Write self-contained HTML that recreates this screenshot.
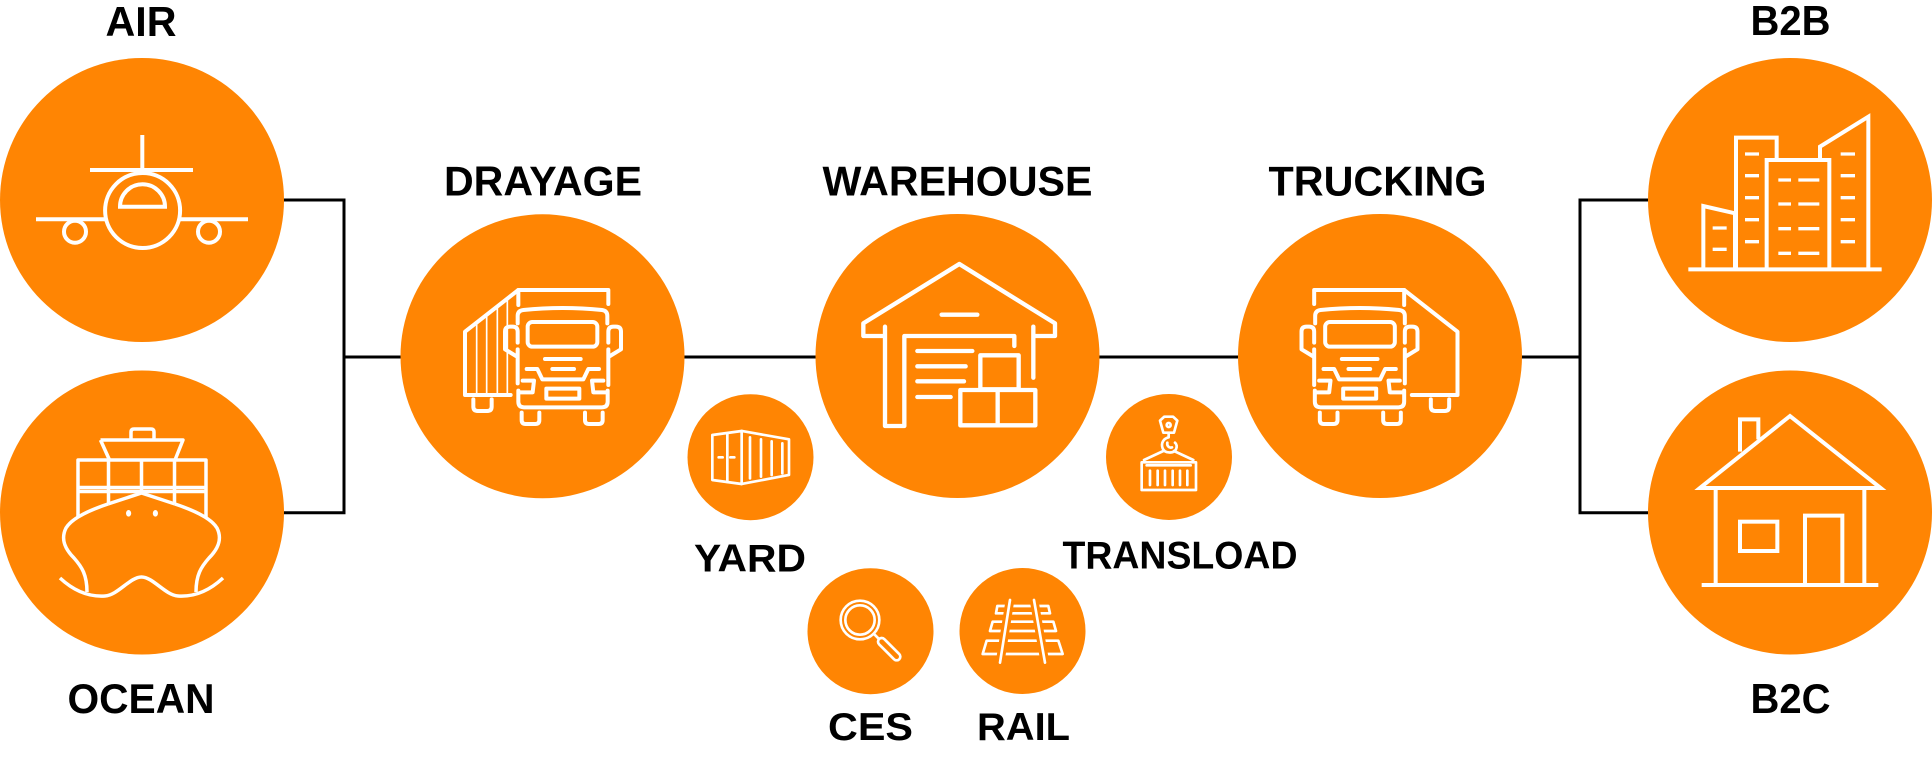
<!DOCTYPE html>
<html>
<head>
<meta charset="utf-8">
<style>
html,body{margin:0;padding:0;background:#fff;}
svg{display:block;}
text{font-family:"Liberation Sans",Arial,sans-serif;font-weight:bold;fill:#000;}
</style>
</head>
<body>
<svg width="1932" height="760" viewBox="0 0 1932 760" xmlns="http://www.w3.org/2000/svg">
<rect width="1932" height="760" fill="#fff"/>

<!-- connectors -->
<g stroke="#000" stroke-width="3" fill="none">
  <path d="M283,200 L344,200 L344,512.7 L283,512.7"/>
  <path d="M344,357 L401,357"/>
  <path d="M684,357 L816,357"/>
  <path d="M1099,357 L1238,357"/>
  <path d="M1521,357 L1580,357"/>
  <path d="M1648,200 L1580,200 L1580,512.7 L1648,512.7"/>
</g>

<!-- circles -->
<g fill="#ff8503">
  <circle cx="142" cy="200" r="142"/>
  <circle cx="142" cy="512.5" r="142"/>
  <circle cx="542.5" cy="356.3" r="142"/>
  <circle cx="957.5" cy="356" r="142"/>
  <circle cx="1380" cy="356" r="142"/>
  <circle cx="1790" cy="200" r="142"/>
  <circle cx="1790" cy="512.5" r="142"/>
  <circle cx="750.5" cy="457.2" r="63"/>
  <circle cx="1169" cy="457" r="63"/>
  <circle cx="870.5" cy="631.2" r="63"/>
  <circle cx="1022.5" cy="631" r="63"/>
</g>

<!-- plane -->
<g stroke="#fff" stroke-width="4" fill="none">
  <line x1="142.3" y1="135" x2="142.3" y2="171"/>
  <line x1="90" y1="170" x2="193" y2="170"/>
  <circle cx="142.6" cy="210.5" r="37.5"/>
  <path d="M120,206.7 A22.5,22.5 0 0 1 165,206.7 Z"/>
  <line x1="36" y1="219.3" x2="106" y2="219.3"/>
  <line x1="179" y1="219.3" x2="248" y2="219.3"/>
  <circle cx="75" cy="231.7" r="11"/>
  <circle cx="209" cy="231.7" r="11"/>
</g>

<!-- ship -->
<g stroke="#fff" stroke-width="3.5" fill="none" stroke-linejoin="round">
  <path d="M131,440 L131,432 Q131,429 134,429 L151,429 Q154,429 154,432 L154,440"/>
  <path d="M100.5,440 L183,440 L175,460 M100.5,440 L109.5,460"/>
  <path d="M78,517 L78,460 L206,460 L206,517"/>
  <path d="M78,487.5 L206,487.5 M78,491.5 L206,491.5"/>
  <path d="M108.5,460 L108.5,504 M141.5,460 L141.5,493 M174.5,460 L174.5,504"/>
  <path d="M108,504 L141.5,493 L175,504"/>
  <path d="M108,504 C90,510 72,518 66,528 C60,540 66,550 74,558 C82,567 87,575 87,592"/>
  <path d="M175,504 C193,510 211,518 217,528 C223,540 217,550 209,558 C201,567 196,575 196,592"/>
  <path d="M60,578 C75,592 90,597 105,596 C118,595 130,577 141.5,577 C153,577 165,595 178,596 C193,597 208,592 223,578"/>
</g>
<ellipse cx="128.6" cy="513.3" rx="2.6" ry="3.3" fill="#fff"/>
<ellipse cx="155.4" cy="513.3" rx="2.6" ry="3.3" fill="#fff"/>

<!-- drayage truck -->
<g transform="translate(390,150) scale(0.33333)" stroke="#fff" fill="none" stroke-width="12" stroke-linecap="round" stroke-linejoin="round">
  <path d="M655,462 L655,420 L385,420 L225,545 L225,735 L362,735"/>
  <path d="M385,420 L385,465"/>
  <g stroke-width="5">
    <path d="M260,518 L260,735 M290,494 L290,735 M322,469 L322,735 M352,446 L352,735"/>
  </g>
  <path d="M250,748 L250,770 Q250,783 263,783 L292,783 Q305,783 305,770 L305,748"/>
  <g id="cab">
    <path d="M383,520 L383,498 Q383,482 400,480 Q518,468 636,480 Q652,482 652,498 L652,520"/>
    <rect x="413" y="516" width="209" height="74" rx="14"/>
    <path d="M383,578 L383,545 Q383,530 368,530 L360,530 Q345,530 345,545 L345,598 L378,618"/>
    <path d="M655,578 L655,545 Q655,530 670,530 L678,530 Q693,530 693,545 L693,598 L660,618"/>
    <path d="M383,598 L383,700 M655,598 L655,705"/>
    <path d="M465,627 L572,627 M487,657 L552,657"/>
    <path d="M410,657 L442,657 L457,688 L580,688 L595,657 L627,657"/>
    <path d="M398,692 L432,692 L428,727 L388,727"/>
    <path d="M640,692 L606,692 L610,727 L650,727"/>
    <path d="M385,722 L385,755 Q385,772 402,772 L636,772 Q653,772 653,755 L653,722"/>
    <rect x="469" y="716" width="99" height="30"/>
    <path d="M395,788 L395,810 Q395,822 407,822 L436,822 Q448,822 448,810 L448,788"/>
    <path d="M585,788 L585,810 Q585,822 597,822 L626,822 Q638,822 638,810 L638,788"/>
  </g>
</g>

<!-- trucking truck (mirrored) -->
<g transform="translate(1532.5,150) scale(-0.33333,0.33333)" stroke="#fff" fill="none" stroke-width="12" stroke-linecap="round" stroke-linejoin="round">
  <path d="M655,462 L655,420 L385,420 L225,545 L225,735 L362,735"/>
  <path d="M385,420 L385,465"/>
  <path d="M250,748 L250,770 Q250,783 263,783 L292,783 Q305,783 305,770 L305,748"/>
  <path d="M383,520 L383,498 Q383,482 400,480 Q518,468 636,480 Q652,482 652,498 L652,520"/>
  <rect x="413" y="516" width="209" height="74" rx="14"/>
  <path d="M383,578 L383,545 Q383,530 368,530 L360,530 Q345,530 345,545 L345,598 L378,618"/>
  <path d="M655,578 L655,545 Q655,530 670,530 L678,530 Q693,530 693,545 L693,598 L660,618"/>
  <path d="M383,598 L383,700 M655,598 L655,705"/>
  <path d="M465,627 L572,627 M487,657 L552,657"/>
  <path d="M410,657 L442,657 L457,688 L580,688 L595,657 L627,657"/>
  <path d="M398,692 L432,692 L428,727 L388,727"/>
  <path d="M640,692 L606,692 L610,727 L650,727"/>
  <path d="M385,722 L385,755 Q385,772 402,772 L636,772 Q653,772 653,755 L653,722"/>
  <rect x="469" y="716" width="99" height="30"/>
  <path d="M395,788 L395,810 Q395,822 407,822 L436,822 Q448,822 448,810 L448,788"/>
  <path d="M585,788 L585,810 Q585,822 597,822 L626,822 Q638,822 638,810 L638,788"/>
</g>

<!-- warehouse -->
<g transform="translate(800,150) scale(0.33333)" stroke="#fff" fill="none" stroke-width="13" stroke-linecap="round" stroke-linejoin="round">
  <path d="M250,558 L190,558 L190,520 L478,342 L765,520 L765,558 L705,558"/>
  <path d="M255,530 L255,828 L313,828 L313,558 L643,558 L643,588"/>
  <path d="M700,530 L700,683"/>
  <path d="M425,494 L532,494"/>
  <path d="M352,603 L517,603 M352,649 L497,649 M352,694 L492,694 M352,741 L452,741"/>
  <rect x="541" y="616" width="115" height="102"/>
  <rect x="481" y="720" width="225" height="106"/>
  <path d="M593,720 L593,826"/>
</g>

<!-- yard container -->
<g transform="translate(390,150) scale(0.33333)" stroke="#fff" fill="none" stroke-width="8" stroke-linecap="round" stroke-linejoin="round">
  <path d="M967,855 L1055,843 L1055,1002 L967,990 Z"/>
  <path d="M1055,843 L1197,868 L1197,975 L1055,1002"/>
  <path d="M1012,850 L1012,996"/>
  <path d="M986,922 L998,922 M1021,922 L1033,922"/>
  <path d="M1080,862 L1080,985 M1113,868 L1113,980 M1145,874 L1145,975 M1177,880 L1177,970"/>
</g>

<!-- transload -->
<g transform="translate(800,150) scale(0.33333)" stroke="#fff" fill="none" stroke-width="8" stroke-linecap="round" stroke-linejoin="round">
  <path d="M1080,812 L1093,800 L1119,800 L1132,812 L1122,848 L1090,848 Z"/>
  <circle cx="1106" cy="825" r="6"/>
  <path d="M1106,850 L1106,862 C1090,866 1082,880 1088,895 C1094,910 1120,912 1128,898 C1132,890 1130,882 1125,878"/>
  <path d="M1102,878 C1100,888 1108,895 1116,892"/>
  <path d="M1032,930 L1090,903 M1122,903 L1180,930"/>
  <rect x="1025" y="937" width="163" height="83"/>
  <path d="M1040,946 L1172,946"/>
  <path d="M1050,962 L1050,1005 M1073,962 L1073,1005 M1095,962 L1095,1005 M1118,962 L1118,1005 M1140,962 L1140,1005 M1162,962 L1162,1005"/>
</g>

<!-- CES magnifier & rail -->
<g transform="translate(680,520) scale(0.33333)" stroke="#fff" fill="none" stroke-width="8" stroke-linecap="round" stroke-linejoin="round">
  <circle cx="540" cy="300" r="58"/>
  <circle cx="540" cy="300" r="44"/>
  <path d="M582,342 L600,360"/>
  <line x1="605" y1="365" x2="650" y2="410" stroke-width="30"/>
  <line x1="605" y1="365" x2="650" y2="410" stroke="#ff8503" stroke-width="14"/>
  <!-- rail ties -->
  <path d="M952,258 L1105,258 L1110,280 L948,280 Z"/>
  <path d="M938,305 L1120,305 L1128,333 L930,333 Z"/>
  <path d="M920,362 L1135,362 L1148,402 L908,402 Z"/>
  <!-- rails with gap -->
  <line x1="990" y1="240" x2="960" y2="428" stroke="#ff8503" stroke-width="26" stroke-linecap="butt"/>
  <line x1="1062" y1="240" x2="1095" y2="428" stroke="#ff8503" stroke-width="26" stroke-linecap="butt"/>
  <line x1="990" y1="240" x2="960" y2="428"/>
  <line x1="1062" y1="240" x2="1095" y2="428"/>
</g>

<!-- B2B buildings -->
<g transform="translate(1600,0) scale(0.33333)" stroke="#fff" fill="none" stroke-width="12" stroke-linejoin="miter">
  <path d="M265,808 L845,808"/>
  <path d="M310,808 L310,618 L405,640 L405,808"/>
  <path d="M408,808 L408,413 L530,413 L530,480"/>
  <path d="M500,808 L500,480 L688,480 L688,808"/>
  <path d="M660,480 L660,440 L805,350 L805,808"/>
  <g stroke-width="10">
    <path d="M338,684 L380,684 M338,748 L380,748"/>
    <path d="M435,462 L477,462 M435,527 L477,527 M435,593 L477,593 M435,659 L477,659 M435,725 L477,725"/>
    <path d="M535,540 L573,540 M595,540 L658,540 M535,612 L573,612 M595,612 L658,612 M535,686 L573,686 M595,686 L658,686 M535,760 L573,760 M595,760 L658,760"/>
    <path d="M722,462 L765,462 M722,527 L765,527 M722,593 L765,593 M722,659 L765,659 M722,725 L765,725"/>
  </g>
</g>

<!-- B2C house -->
<g transform="translate(1600,370) scale(0.33333)" stroke="#fff" fill="none" stroke-width="12" stroke-linejoin="miter">
  <path d="M300,354 L570,138 L842,354 Z"/>
  <path d="M420,245 L420,148 L475,148 L475,208"/>
  <path d="M347,357 L347,645 M793,357 L793,645"/>
  <path d="M305,645 L835,645"/>
  <rect x="420" y="455" width="112" height="88"/>
  <path d="M615,640 L615,437 L727,437 L727,640"/>
</g>

<!-- labels -->
<g font-size="42" text-anchor="middle">
  <text x="141" y="36" textLength="71" lengthAdjust="spacingAndGlyphs">AIR</text>
  <text x="141" y="713" textLength="147" lengthAdjust="spacingAndGlyphs">OCEAN</text>
  <text x="543" y="195.7" textLength="198" lengthAdjust="spacingAndGlyphs">DRAYAGE</text>
  <text x="957.5" y="195.7" textLength="270" lengthAdjust="spacingAndGlyphs">WAREHOUSE</text>
  <text x="1377.5" y="195.7" textLength="218" lengthAdjust="spacingAndGlyphs">TRUCKING</text>
  <text x="1790.5" y="35" textLength="80" lengthAdjust="spacingAndGlyphs">B2B</text>
  <text x="1790.5" y="713" textLength="80" lengthAdjust="spacingAndGlyphs">B2C</text>
</g>
<g font-size="39" text-anchor="middle">
  <text x="750" y="571.7" textLength="112" lengthAdjust="spacingAndGlyphs">YARD</text>
  <text x="1180" y="568.3" textLength="235" lengthAdjust="spacingAndGlyphs">TRANSLOAD</text>
  <text x="870.5" y="740" textLength="85" lengthAdjust="spacingAndGlyphs">CES</text>
  <text x="1023.5" y="740" textLength="93" lengthAdjust="spacingAndGlyphs">RAIL</text>
</g>
</svg>
</body>
</html>
